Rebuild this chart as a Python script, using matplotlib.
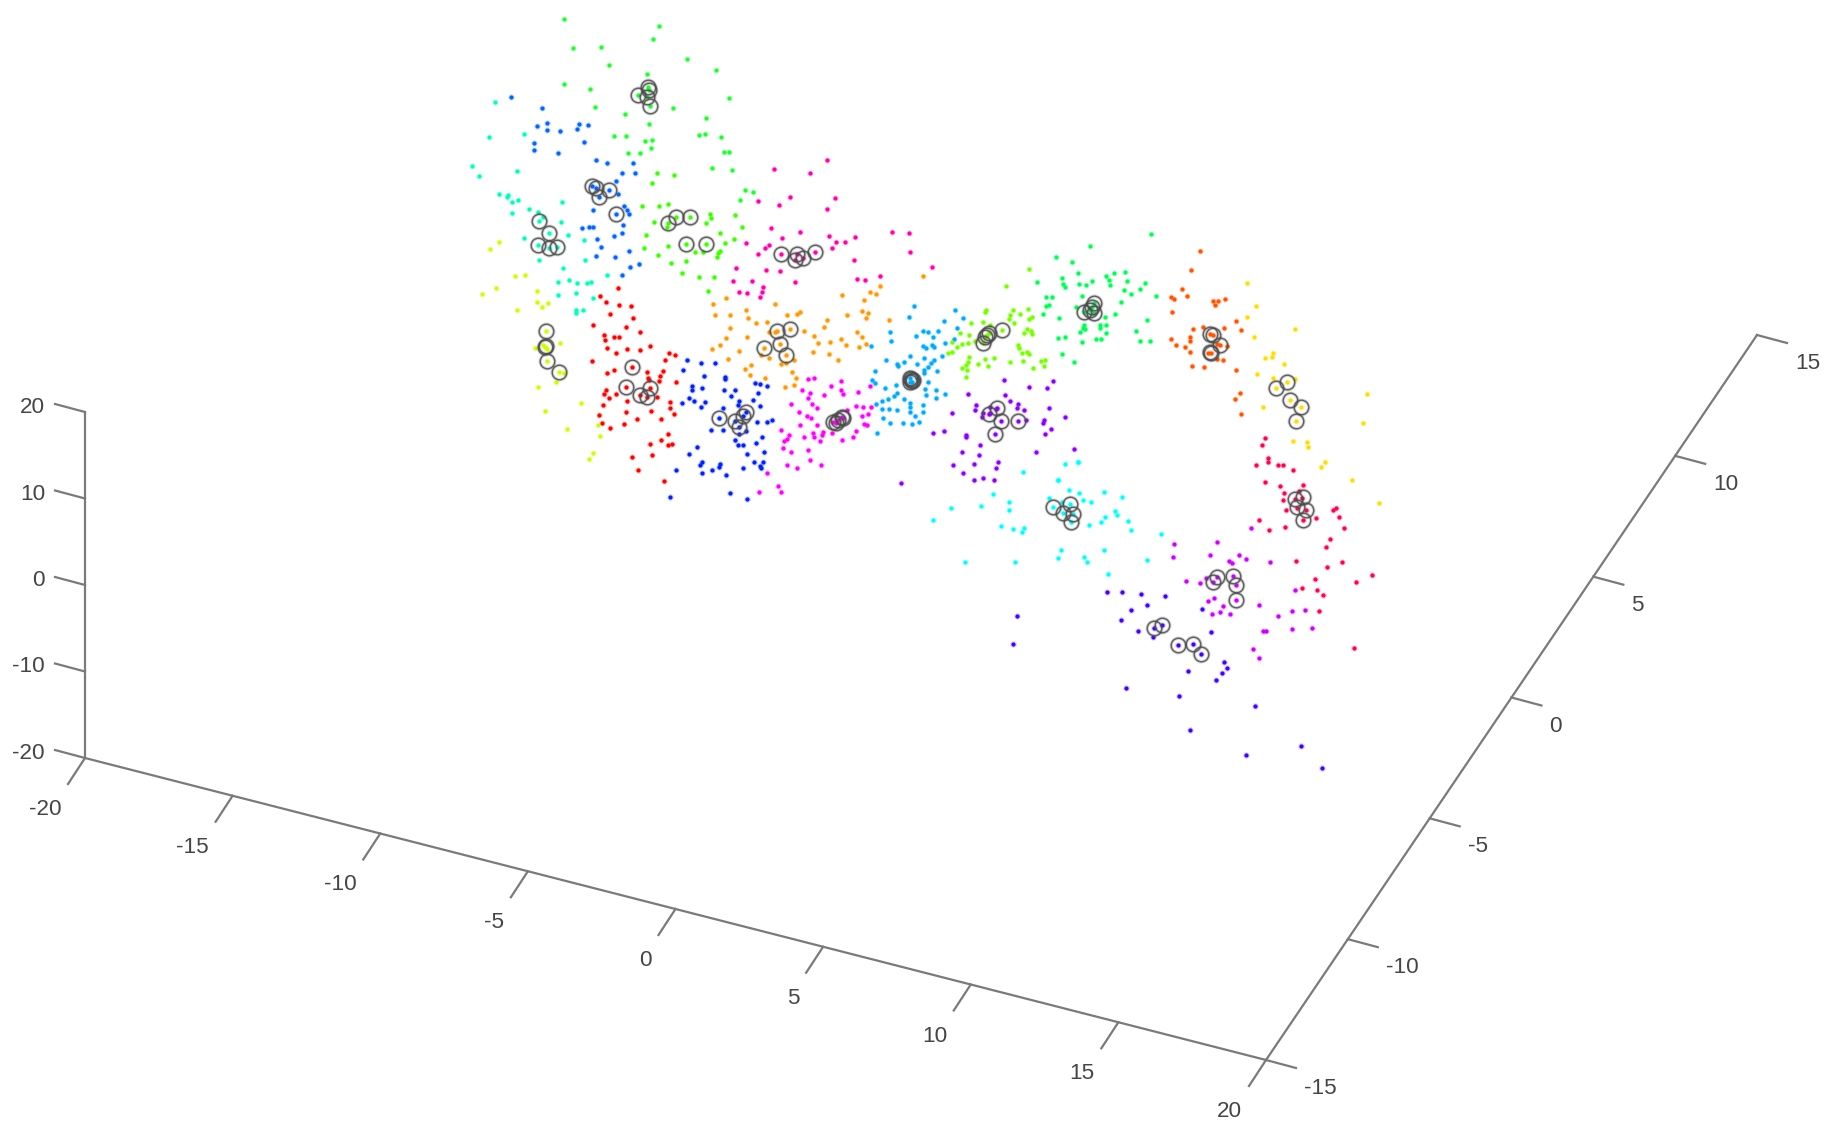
import matplotlib
matplotlib.use("Agg")
import matplotlib.pyplot as plt
import numpy as np

plt.rcParams['font.family'] = ['Liberation Sans', 'DejaVu Sans']

# Screen-plane readings of each cluster (the reference shows a 3-D view without recoverable depth).
# Each list is read in one of four reading windows: origin x, origin y, x scale, y scale.
W1, W2 = (450, 0, 1 / 3, 1 / 3), (450, 250, 1 / 3, 1 / 3)
W3, W4 = (850, 210, 550 / 1568, 1 / 3), (900, 460, 1 / 3, 1 / 3)

green_w1 = [(343,58),(626,77),(610,116),(368,145),(452,140),(710,177),(477,195),(799,211),(590,221),(342,252),(419,267),(836,293),(434,322),(670,323),(524,341),(769,355),(598,372),(748,404),(765,401),(812,411),(491,408),(527,408),(586,422),(606,420),(603,445),(535,460),(571,460),(821,457),(838,457),(786,505),(846,509),(886,570),(908,576),(871,599),(593,262),(563,284),(597,270),(590,290),(601,318)]
green_rings = [(593,262),(563,284),(597,270),(590,290),(601,318)]

lawn_w1 = [(621,519),(672,526),(605,549),(577,618),(626,619),(653,611),(612,665),(781,642),(783,655),(768,669),(854,646),(875,681),(811,700),(588,705),(851,716),(826,730),(654,739),(582,745),(678,651),(720,650),(655,668),(708,732),(767,732),(650,680)]
lawn_w2 = [(625,15),(708,34),(663,40),(696,69),(748,80),(793,80),(774,124),(734,7),(758,7),(805,10),(810,2),(801,22)]
lawn_rings = [(678,651),(720,650),(655,668),(708,732),(767,732)]

pink_w1 = [(1132,480),(971,506),(1080,519),(1019,590),(923,603),(986,615),(1155,595),(1131,627),(963,685),(1049,696),(995,715),(1136,708),(1158,725),(1184,725),(958,734),(887,729),(1145,743),(946,745),(992,762),(1040,762),(1035,780),(1060,775),(1095,755)]
pink_w2 = [(925,13),(858,53),(948,60),(989,62),(850,93),(905,93),(1035,96),(940,110),(868,125),(891,128),(935,125),(930,140)]
pink_w3 = [(15,80),(121,67),(167,69),(170,127),(10,149),(235,170),(85,197),(21,207),(42,211)]
pink_rings = [(992,762),(1040,762),(1035,780),(1060,775),(1095,755)]

azure_w1 = [(183,292),(276,323),(260,377),(292,370),(291,390),(331,393),(388,371),(413,376),(380,388),(402,427),(252,428),(253,451),(323,459),(437,481),(471,489),(549,489),(515,520),(554,518),(497,543),(504,581),(522,617),(531,631),(536,642),(428,631),(520,675),(396,683),(418,680),(430,680),(516,699),(493,708),(441,718),(453,740),(425,558),(437,565),(478,571),(446,592),(498,643)]
azure_w2 = [(438,18),(496,22),(566,43),(539,52),(517,76),(536,2)]
azure_rings = [(425,558),(437,565),(478,571),(446,592),(498,643)]

teal_w1 = [(134,307),(116,411),(221,401),(67,497),(88,527),(202,513),(147,581),(175,585),(172,591),(185,606),(204,600),(335,607),(236,626),(185,640),(265,636),(280,652),(332,667),(223,713),(354,704),(403,720),(268,662),(296,700),(264,734),(298,745),(320,742)]
teal_w2 = [(268,31),(340,53),(404,31),(470,74),(324,96),(357,89),(382,100),(410,98),(424,96),(323,135),(379,129),(430,143),(377,180),(378,188),(398,179)]
teal_rings = [(268,662),(296,700),(264,734),(298,745),(320,742)]

chartreuse_w1 = [(146,727),(120,748)]
chartreuse_w2 = [(195,78),(224,76),(97,132),(137,115),(261,124),(261,155),(293,160),(275,172),(201,180),(331,278),(256,294),(290,296),(263,411),(317,395),(392,460),(285,483),(352,537),(445,525),(449,557),(430,608),(417,626),(342,370),(287,242),(285,290),(292,333),(326,365),(278,285)]
chartreuse_rings = [(287,242),(285,290),(292,333),(326,365),(288,288)]

red_w2 = [(505,114),(451,139),(469,157),(507,166),(543,169),(479,193),(548,203),(528,231),(428,225),(569,245),(462,254),(464,270),(491,261),(507,261),(470,294),(530,297),(570,299),(600,289),(497,310),(656,309),(675,315),(644,329),(427,332),(545,351),(638,362),(492,361),(470,370),(590,367),(595,385),(630,379),(628,394),(677,395),(597,390),(529,411),(467,420),(461,433),(499,431),(478,445),(532,453),(600,414),(569,436),(591,440),(620,441),(659,455),(660,474),(458,466),(673,491),(529,487),(602,482),(447,495),(562,506),(633,507),(456,520),(479,535),(521,523),(654,553),(632,570),(601,581),(655,586),(667,582),(545,620),(607,614),(565,659),(642,694)]
red_rings = [(545,351),(529,411),(600,414),(569,436),(591,440)]

orange_w2 = [(827,143),(790,162),(975,162),(887,180),(796,194),(841,194),(893,204),(917,218),(951,215),(1010,194),(1040,192),(1050,187),(1190,194),(1130,211),(1121,232),(840,235),(1062,242),(957,245),(975,245),(1091,257),(890,262),(828,265),(810,285),(787,298),(868,302),(1105,280),(1140,277),(1172,267),(1188,285),(1089,307),(1137,311),(835,327),(933,316),(957,325),(1163,330),(1033,331),(992,342),(1008,338),(903,346),(885,358),(900,375),(1025,365),(945,385),(1038,385),(1033,405),(1005,412),(1177,136),(980,242),(1020,238),(990,282),(941,294),(1007,315)]
orange_w3 = [(85,228),(57,245),(75,252),(40,271),(35,303),(52,310),(45,323),(20,365),(33,380),(45,402),(27,412),(110,331),(208,198)]
orange_rings = [(980,242),(1020,238),(990,282),(941,294),(1007,315)]

blue_w2 = [(712,331),(754,340),(795,340),(699,361),(761,378),(825,380),(826,388),(725,407),(757,414),(725,421),(822,421),(854,419),(916,400),(930,403),(952,408),(842,438),(925,430),(717,443),(733,453),(765,455),(695,458),(752,470),(868,452),(863,465),(908,450),(929,468),(820,473),(808,503),(922,515),(950,517),(967,509),(782,539),(820,539),(888,543),(866,552),(855,570),(918,578),(935,562),(865,585),(880,585),(741,592),(891,611),(942,605),(717,613),(755,635),(750,645),(811,642),(808,650),(785,660),(879,654),(911,635),(940,636),(930,648),(933,655),(679,661),(757,670),(827,675),(840,728),(660,741),(890,746),(855,512),(880,498),(888,485),(868,530)]
blue_rings = [(808,503),(855,512),(880,498),(888,485),(868,530)]

magenta_w2 = [(1074,388),(1092,385),(1174,392),(1143,408),(1056,419),(1172,420),(1180,432),(1080,428),(1075,443),(1123,436),(1024,462),(1085,463),(1102,474),(1048,487),(1072,497),(1084,503),(1050,525),(1100,524),(992,539),(1118,545),(1115,555),(1062,560),(1088,548),(1092,562),(1018,555),(1012,567),(1003,573),(1110,573),(1000,594),(1022,606),(1075,600),(1176,570),(1146,550),(1081,631),(1012,645),(1040,653),(1113,644),(951,670),(985,708),(993,725),(928,725),(1190,480),(1217,467),(1240,472),(1262,470),(1235,497),(1253,493),(1218,543),(1208,560),(1243,523),(1252,525),(1260,408),(1225,425),(1178,505),(1165,510),(1158,520),(1150,515),(1175,500)]
magenta_rings = [(1178,505),(1165,510),(1158,520),(1150,515),(1175,500)]

sky_w3 = [(182,287),(168,321),(299,299),(323,323),(269,332),(305,354),(113,367),(117,393),(207,363),(222,367),(251,364),(188,378),(238,382),(270,398),(296,386),(59,407),(208,408),(217,415),(235,404),(240,412),(172,437),(212,443),(262,438),(104,449),(155,455),(135,462),(137,467),(240,450),(232,460),(190,463),(222,472),(247,484),(212,488),(70,484),(62,510),(70,520),(222,515),(130,525),(100,535),(215,538),(245,540),(270,551),(218,556),(245,564),(135,548),(125,558),(108,566),(92,574),(75,582),(155,567),(170,578),(172,590),(207,585),(92,598),(110,598),(133,600),(172,605),(208,607),(93,625),(186,618),(115,638),(152,640),(177,642),(196,637),(78,670),(190,505),(178,515),(210,480),(172,505),(170,515)]
sky_rings = [(172,505),(178,512),(170,515),(175,508),(180,510)]

lime_w3 = [(444,228),(509,177),(388,300),(384,307),(465,300),(508,296),(484,312),(455,315),(452,328),(518,320),(510,328),(378,335),(345,340),(313,368),(400,345),(468,340),(505,358),(515,362),(520,372),(495,370),(340,375),(290,395),(320,403),(335,400),(305,410),(355,392),(480,405),(483,415),(490,428),(505,425),(510,432),(280,430),(290,425),(338,442),(335,455),(365,463),(385,447),(410,445),(392,467),(332,465),(320,475),(333,480),(457,457),(492,452),(545,452),(555,450),(553,468),(521,475),(332,501),(433,360),(390,375),(395,370),(380,400),(385,380)]
lime_rings = [(433,360),(390,375),(395,370),(380,400),(385,380)]

spring_w3 = [(857,72),(683,107),(587,140),(632,155),(650,188),(605,205),(607,222),(612,232),(534,216),(654,222),(674,225),(691,212),(730,197),(753,188),(784,186),(738,210),(740,225),(790,214),(840,218),(828,237),(782,240),(802,251),(871,259),(772,275),(660,257),(560,260),(575,262),(567,285),(560,288),(549,313),(645,292),(755,313),(727,320),(597,324),(847,331),(730,344),(712,345),(713,355),(668,345),(664,355),(655,365),(670,358),(814,362),(730,368),(592,384),(614,380),(660,395),(700,388),(717,388),(828,394),(856,394),(605,432),(638,456),(695,280),(690,290),(668,305),(695,310),(685,300)]
spring_rings = [(695,280),(690,290),(668,305),(695,310),(685,300)]

vermilion_w3 = [(998,122),(972,181),(947,238),(915,260),(923,267),(960,259),(1035,272),(1050,272),(1068,268),(1040,285),(917,307),(1100,332),(1115,360),(978,357),(1005,350),(1065,353),(968,380),(968,392),(915,388),(929,404),(955,410),(968,425),(1025,372),(1045,402),(1075,407),(1020,430),(1045,447),(1063,450),(975,467),(1010,470),(1100,480),(1113,548),(1097,567),(1116,611),(1035,375),(1055,405),(1030,430)]
vermilion_rings = [(1025,372),(1035,375),(1055,405),(1030,430),(1025,425)]

yellow_w3 = [(1131,218),(1158,288),(1133,320),(1270,356),(1151,380),(1205,430),(1203,440),(1184,443),(1236,462),(1160,492),(1207,503),(1270,507),(1473,552),(1176,592),(1462,640),(1262,694),(1304,697),(1305,710),(1355,755),(1342,770),(1431,811),(1507,878),(1245,516),(1215,535),(1255,570),(1287,592),(1272,632)]
yellow_rings = [(1245,516),(1215,535),(1255,570),(1287,592),(1272,632)]

crimson_w3 = [(1183,684),(1175,706),(1192,743)]
crimson_w4 = [(1067,14),(1105,6),(1135,14),(1150,14),(1179,31),(1096,65),(1141,77),(1208,74),(1196,93),(1152,98),(1148,121),(1158,151),(1185,118),(1205,113),(1192,143),(1218,150),(1248,173),(1078,181),(1107,210),(1156,202),(1300,150),(1307,144),(1318,171),(1332,205),(1291,238),(1277,261),(1187,304),(1281,320),(1325,307),(1417,344),(1245,358),(1367,365),(1207,385),(1252,390),(1268,406),(1256,452),(1361,564),(1208,180)]
crimson_rings = [(1185,118),(1210,112),(1192,140),(1218,150),(1208,180)]

violet_w3 = [(438,510),(509,532),(563,533),(579,513),(336,553),(441,555),(455,574),(478,583),(475,593),(360,585),(355,600),(497,600),(290,608),(567,595),(612,620),(503,630),(552,630),(550,638),(238,670),(267,662),(330,675),(330,680),(572,657),(556,671),(370,705),(320,726),(367,735),(531,725),(638,718),(423,755),(293,765),(353,762),(415,773),(323,790),(354,811),(379,805),(411,811),(144,820),(380,610),(375,620),(400,590),(415,598),(400,610),(420,595),(397,612),(430,632),(478,632),(413,673)]
violet_rings = [(420,595),(397,612),(430,632),(478,632),(413,673)]

cyan_w3 = [(651,755),(613,762),(493,787),(592,809),(409,853),(454,876),(453,899),(287,893),(374,889),(238,930),(430,948),(464,956),(490,965),(497,955)]
cyan_w4 = [(535,5),(473,59),(508,90),(538,100),(612,96),(665,111),(447,113),(550,120),(572,126),(645,153),(652,165),(615,172),(602,185),(685,183),(566,196),(693,210),(782,221),(482,271),(473,294),(551,292),(560,306),(611,271),(742,300),(625,341),(487,125),(195,306),(345,307),(460,142),(510,131),(488,158),(518,163),(513,185)]
cyan_rings = [(460,142),(510,131),(488,158),(518,163),(513,185)]

purple_w4 = [(822,253),(952,246),(930,284),(818,292),(1016,284),(1038,298),(988,304),(996,308),(1111,305),(857,363),(900,370),(918,355),(1078,434),(941,413),(925,424),(970,439),(935,463),(960,457),(990,461),(1133,467),(1177,454),(1215,450),(1184,390),(1053,205),(1175,506),(1236,503),(1088,512),(1098,513),(1060,568),(1077,595),(950,350),(998,349),(938,366),(1007,374),(1009,419)]
purple_rings = [(950,350),(998,349),(938,366),(1007,374),(1009,419)]

indigo_w4 = [(621,397),(665,395),(722,403),(794,407),(740,435),(693,449),(905,446),(662,481),(714,512),(758,530),(933,515),(973,606),(982,625),(966,639),(863,633),(947,661),(678,685),(836,708),(1065,737),(869,809),(1202,859),(1037,886),(1267,924),(350,467),(340,552),(785,494),(762,505),(833,555),(878,553),(902,582)]
indigo_rings = [(785,494),(762,505),(833,555),(878,553),(902,582)]

x_ticks = [-20, -15, -10, -5, 0, 5, 10, 15, 20]
y_ticks = [-15, -10, -5, 0, 5, 10, 15]
z_ticks = [-20, -10, 0, 10, 20]


def screen(points, window):
    a = np.array(points, dtype=float)
    return window[0] + a[:, 0] * window[2], window[1] + a[:, 1] * window[3]


series = [
    ('#1eff32', [(green_w1, W1)], (green_rings, W1)),
    ('#3cff00', [(lawn_w1, W1), (lawn_w2, W2)], (lawn_rings, W1)),
    ('#ff00aa', [(pink_w1, W1), (pink_w2, W2), (pink_w3, W3)], (pink_rings, W1)),
    ('#0066ff', [(azure_w1, W1), (azure_w2, W2)], (azure_rings, W1)),
    ('#00ffbb', [(teal_w1, W1), (teal_w2, W2)], (teal_rings, W1)),
    ('#ccff00', [(chartreuse_w1, W1), (chartreuse_w2, W2)], (chartreuse_rings, W2)),
    ('#ff0000', [(red_w2, W2)], (red_rings, W2)),
    ('#ff9900', [(orange_w2, W2), (orange_w3, W3)], (orange_rings, W2)),
    ('#0022ff', [(blue_w2, W2)], (blue_rings, W2)),
    ('#ff00ff', [(magenta_w2, W2)], (magenta_rings, W2)),
    ('#00aaff', [(sky_w3, W3)], (sky_rings, W3)),
    ('#77ff00', [(lime_w3, W3)], (lime_rings, W3)),
    ('#00ff55', [(spring_w3, W3)], (spring_rings, W3)),
    ('#ff5500', [(vermilion_w3, W3)], (vermilion_rings, W3)),
    ('#ffdd00', [(yellow_w3, W3)], (yellow_rings, W3)),
    ('#ff0055', [(crimson_w3, W3), (crimson_w4, W4)], (crimson_rings, W4)),
    ('#8800ff', [(violet_w3, W3)], (violet_rings, W3)),
    ('#00ffff', [(cyan_w3, W3), (cyan_w4, W4)], (cyan_rings, W4)),
    ('#cc00ff', [(purple_w4, W4)], (purple_rings, W4)),
    ('#4400ff', [(indigo_w4, W4)], (indigo_rings, W4)),
]

fig = plt.figure(figsize=(18.34, 11.33), dpi=100)
ax = fig.add_axes([0, 0, 1, 1])
ax.set_xlim(0, 1834)
ax.set_ylim(1133, 0)
ax.axis('off')

AX = '#7a7a7a'
TXT = '#454545'
FS = 16.2
O = np.array([85.0, 758.0])      # x=-20, y=15 back-left floor corner
F = np.array([1266.0, 1060.0])   # x=20 front corner
B = np.array([1757.0, 335.0])    # y=15 far corner
Z = np.array([85.0, 412.0])      # top of z axis

ax.plot([Z[0], O[0], F[0], B[0]], [Z[1], O[1], F[1], B[1]], color=AX, lw=1.6, solid_joinstyle='miter')

for v in x_ticks:
    p = O + (F - O) * (v + 20) / 40
    ax.plot([p[0], p[0] - 17], [p[1], p[1] + 26], color=AX, lw=1.6)
    ax.text(p[0] - 23.5, p[1] + 51.5, str(v), ha='right', va='center', fontsize=FS, color=TXT)

for v in y_ticks:
    p = F + (B - F) * (v + 15) / 30
    ax.plot([p[0], p[0] + 30], [p[1], p[1] + 8], color=AX, lw=1.6)
    ax.text(p[0] + 38, p[1] + 28.5, str(v), ha='left', va='center', fontsize=FS, color=TXT)

for v in z_ticks:
    p = O + (Z - O) * (v + 20) / 40
    ax.plot([p[0], p[0] - 30], [p[1], p[1] - 8], color=AX, lw=1.6)
    ax.text(p[0] - 40, p[1] - 4.5, str(v), ha='right', va='center', fontsize=FS, color=TXT)

for color, parts, _ in series:
    for pts, win in parts:
        xs, ys = screen(pts, win)
        ax.scatter(xs, ys, s=24, color=color, linewidths=0, alpha=0.15, zorder=2)
        ax.scatter(xs, ys, s=9.5, color=color, linewidths=0, zorder=3)

for color, _, (pts, win) in series:
    xs, ys = screen(pts, win)
    ax.plot(xs, ys, ls='none', marker='o', ms=10.5, mfc='none', mec='#555555', mew=2.4, alpha=0.25, zorder=4)
    ax.plot(xs, ys, ls='none', marker='o', ms=10.5, mfc='none', mec='#4a4a4a', mew=1.0, alpha=0.85, zorder=4)

fig.savefig('out.png', dpi=100, facecolor='white')
